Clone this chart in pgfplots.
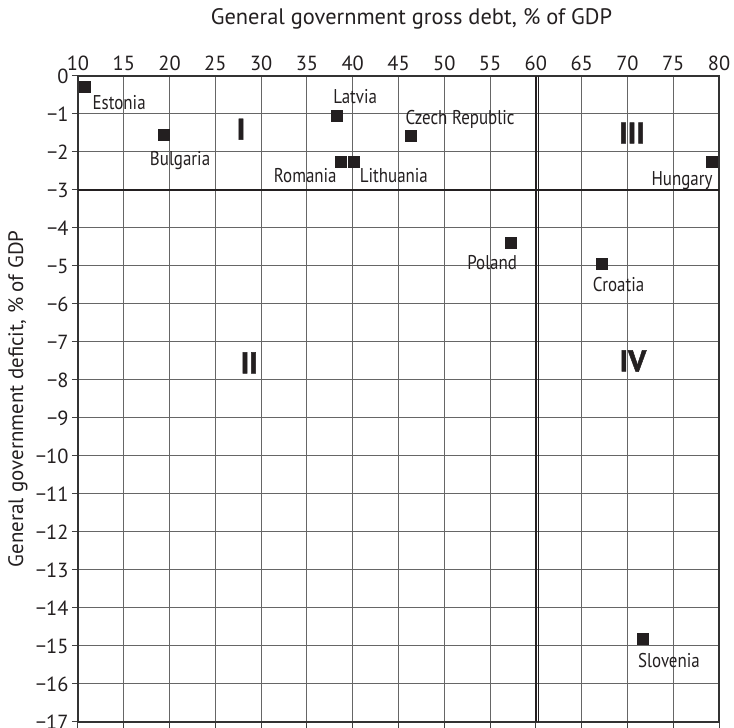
\documentclass[border=0pt]{standalone}
\usepackage{fontspec}
\setmainfont{PT Sans}
\newfontfamily\labfont{PT Sans}[FakeStretch=0.85]
\newfontfamily\heavyfont{PT Sans}[BoldFeatures={FakeBold=1.5}]
\usepackage{pgfplots}
\pgfplotsset{compat=1.18}
\definecolor{mk}{HTML}{231F20}
\definecolor{gr}{HTML}{666666}
\begin{document}
\begin{tikzpicture}
\begin{axis}[
  name=ax,
  scale only axis, width=641bp, height=646bp,
  xmin=10, xmax=80, ymin=-17, ymax=0,
  xtick={10,15,...,80},
  ytick={-17,-16,...,0},
  yticklabels={−17,−16,−15,−14,−13,−12,−11,−10,−9,−8,−7,−6,−5,−4,−3,−2,−1,0},
  xtick pos=bottom,
  xticklabel pos=top,
  ytick pos=left,
  tick align=outside,
  major tick length=6bp,
  tick style={black!75, line width=1bp},
  grid=major,
  grid style={gr, line width=1bp},
  axis line style={black!80, line width=1.2bp},
  /pgf/number format/assume math mode=true,
  ticklabel style={font=\fontsize{20.5}{24}\selectfont, text=mk},
  xticklabel style={yshift=-4bp},
]
\draw[mk, line width=2.5bp] (axis cs:10,-3) -- (axis cs:80,-3);
\draw[mk, line width=2.6bp] (axis cs:60,0) -- (axis cs:60,-17);
\draw[mk, line width=1.1bp] ([xshift=2.8bp]axis cs:60,0) -- ([xshift=2.8bp]axis cs:60,-17);
\addplot[only marks, mark=square*, mark size=5.5bp, color=mk, mark options={fill=mk, draw=mk}] coordinates {
  (10.7,-0.28) (19.4,-1.55) (38.3,-1.05) (38.7,-2.25) (40.1,-2.25)
  (46.3,-1.58) (79.2,-2.25) (57.2,-4.38) (67.2,-4.95) (71.7,-14.8)
};
\begin{scope}[every node/.style={font=\labfont\fontsize{20}{23}\selectfont, text=mk, inner sep=0pt}]
\node[anchor=west] at ([shift={(8bp,-16bp)}]axis cs:10.7,-0.28) {Estonia};
\node[anchor=center] at ([shift={(16bp,-26bp)}]axis cs:19.4,-1.55) {Bulgaria};
\node[anchor=west] at ([shift={(-4bp,19bp)}]axis cs:38.3,-1.05) {Latvia};
\node[anchor=east] at ([shift={(-4bp,-14bp)}]axis cs:38.7,-2.25) {Romania};
\node[anchor=west] at ([shift={(6bp,-14bp)}]axis cs:40.1,-2.25) {Lithuania};
\node[anchor=west] at ([shift={(-5bp,17bp)}]axis cs:46.3,-1.58) {Czech Republic};
\node[anchor=east] at ([shift={(1bp,-19bp)}]axis cs:79.2,-2.25) {Hungary};
\node[anchor=east] at ([shift={(7bp,-20bp)}]axis cs:57.2,-4.38) {Poland};
\node[anchor=west] at ([shift={(-9bp,-20bp)}]axis cs:67.2,-4.95) {Croatia};
\node[anchor=west] at ([shift={(-5bp,-22bp)}]axis cs:71.7,-14.8) {Slovenia};
\end{scope}
\begin{scope}[every node/.style={font=\heavyfont\fontsize{30}{30}\selectfont\bfseries, text=mk, inner sep=0pt}]
\node at (axis cs:27.8,-1.4) {I};
\node at (axis cs:28.7,-7.55) {II};
\node at (axis cs:70.5,-1.5) {III};
\node at (axis cs:70.6,-7.5) {IV};
\end{scope}
\end{axis}
\node[rotate=90, font=\fontsize{21}{24}\selectfont, text=mk] at ([xshift=-60bp]ax.west) {General government deficit, \% of GDP};
\node[font=\fontsize{22.5}{26}\selectfont, text=mk] at ([xshift=13bp,yshift=57bp]ax.north) {General government gross debt, \% of GDP};
\pgfresetboundingbox
\path ([xshift=-78bp,yshift=-6bp]ax.south west) rectangle ([xshift=15bp,yshift=76bp]ax.north east);
\end{tikzpicture}
\end{document}
